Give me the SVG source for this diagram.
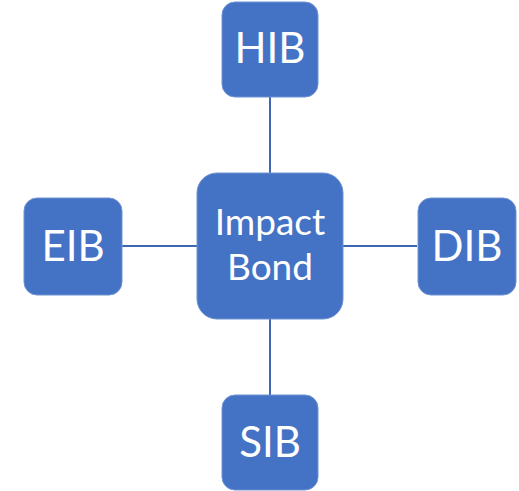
<svg xmlns="http://www.w3.org/2000/svg" width="519" height="491" viewBox="0 0 519 491">
<style>
.box{fill:#4472C4;stroke:#6f93d3;stroke-width:1}
.lbl{fill:#fff;font-family:Lato,"Open Sans",sans-serif;text-anchor:middle}
.big{font-size:42px}
.mid{font-size:37px}
.conn line{stroke:#3f66b0;stroke-width:2}
</style>
<rect width="519" height="491" fill="#fff"/>
<g id="connectors" class="conn">
<line x1="270" y1="97" x2="270" y2="173"/>
<line x1="270" y1="319" x2="270" y2="395"/>
<line x1="122" y1="246" x2="197" y2="246"/>
<line x1="343" y1="246" x2="417" y2="246"/>
</g>
<g id="impact-bond">
<rect class="box" x="197" y="173" width="146" height="146" rx="20"/>
<text class="lbl mid" x="270" y="235">Impact</text>
<text class="lbl mid" x="270" y="280">Bond</text>
</g>
<g id="hib">
<rect class="box" x="222" y="2" width="96" height="95" rx="13"/>
<text class="lbl big" x="270" y="63">HIB</text>
</g>
<g id="eib">
<rect class="box" x="24" y="198" width="98" height="97" rx="13"/>
<text class="lbl big" x="73" y="261">EIB</text>
</g>
<g id="dib">
<rect class="box" x="418" y="198" width="98" height="97" rx="13"/>
<text class="lbl big" x="467" y="261">DIB</text>
</g>
<g id="sib">
<rect class="box" x="222" y="395" width="96" height="95" rx="13"/>
<text class="lbl big" x="270" y="457">SIB</text>
</g>
</svg>
